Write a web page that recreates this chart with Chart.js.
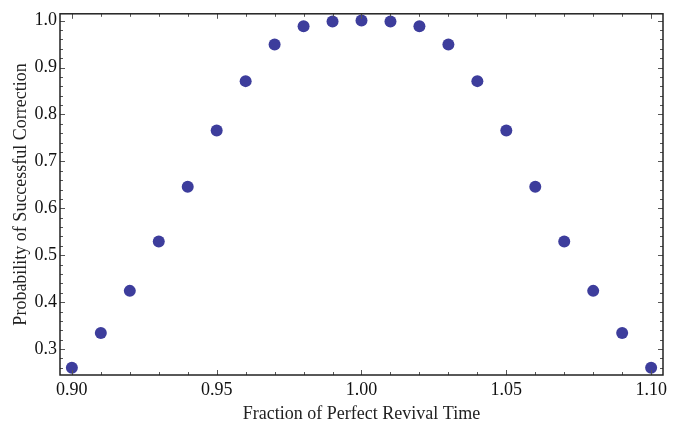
<!DOCTYPE html>
<html>
<head>
<meta charset="utf-8">
<script src="https://cdn.jsdelivr.net/npm/chart.js@4"></script>
<style>
  html, body { margin: 0; padding: 0; background: #fff; }
  #wrap { width: 692px; height: 429px; }
</style>
</head>
<body>
<div id="wrap"><canvas id="scatterChart"></canvas></div>
<script>
// fraction of perfect revival time
const fractions = [0.90, 0.91, 0.92, 0.93, 0.94, 0.95, 0.96, 0.97, 0.98, 0.99, 1.00,
                   1.01, 1.02, 1.03, 1.04, 1.05, 1.06, 1.07, 1.08, 1.09, 1.10];
// probability of successful correction
const probabilities = [0.260, 0.334, 0.424, 0.529, 0.646, 0.766, 0.871, 0.949, 0.988, 0.998, 1.000,
                       0.998, 0.988, 0.949, 0.871, 0.766, 0.646, 0.529, 0.424, 0.334, 0.260];
const xTicks = [0.90, 0.95, 1.00, 1.05, 1.10];
const yTicks = [0.3, 0.4, 0.5, 0.6, 0.7, 0.8, 0.9, 1.0];

const serif = "'Liberation Serif', 'Times New Roman', serif";

// Mathematica style frame with inward ticks on all four sides
const frameTicks = {
	id: 'frameTicks',
	afterDatasetsDraw(chart) {
		const ctx = chart.ctx;
		const a = chart.chartArea;
		const xs = chart.scales.x;
		const ys = chart.scales.y;
		ctx.save();
		ctx.strokeStyle = '#555';
		ctx.lineWidth = 1;
		ctx.beginPath();
		// x minor every 0.01, major every 0.05
		for (let i = 90; i <= 110; i++) {
			const px = Math.round(xs.getPixelForValue(i / 100)) + 0.5;
			const len = (i % 5 === 0) ? 5 : 3;
			ctx.moveTo(px, a.bottom); ctx.lineTo(px, a.bottom - len);
			ctx.moveTo(px, a.top); ctx.lineTo(px, a.top + len);
		}
		// y minor every 0.02, major every 0.1
		for (let i = 13; i <= 50; i++) {
			const v = i / 50;
			if (v < ys.min || v > ys.max) continue;
			const py = Math.round(ys.getPixelForValue(v)) + 0.5;
			const len = (i % 5 === 0) ? 5 : 3;
			ctx.moveTo(a.left, py); ctx.lineTo(a.left + len, py);
			ctx.moveTo(a.right, py); ctx.lineTo(a.right - len, py);
		}
		ctx.stroke();
		ctx.strokeStyle = '#222';
		ctx.lineWidth = 1.5;
		ctx.strokeRect(a.left, a.top, a.right - a.left, a.bottom - a.top);
		ctx.restore();
	}
};

const ctx = document.getElementById('scatterChart').getContext('2d');
const scatterChart = new Chart(ctx, {
	type: 'scatter',
	data: {
		datasets: [{
			data: fractions.map((f, i) => ({ x: f, y: probabilities[i] })),
			backgroundColor: '#3d3d9c',
			borderColor: '#3d3d9c',
			borderWidth: 0,
			pointRadius: 6,
			pointHoverRadius: 6
		}]
	},
	options: {
		responsive: true,
		maintainAspectRatio: false,
		animation: false,
		events: [],
		layout: { padding: { top: 3, right: 29, left: 0, bottom: 4 } },
		plugins: { legend: { display: false }, tooltip: { enabled: false } },
		scales: {
			x: {
				type: 'linear',
				min: 0.8959,
				max: 1.1041,
				afterBuildTicks: (scale) => { scale.ticks = xTicks.map(v => ({ value: v })); },
				afterFit: (scale) => { scale.height = 50; },
				grid: { display: false, drawTicks: false, tickLength: 0 },
				border: { display: false },
				ticks: {
					color: '#111',
					font: { family: serif, size: 18 },
					padding: 4,
					maxRotation: 0,
					autoSkip: false,
					callback: (v) => v.toFixed(2)
				},
				title: {
					display: true,
					text: 'Fraction of Perfect Revival Time',
					color: '#222',
					font: { family: serif, size: 18 },
					padding: { top: 0, bottom: 0 }
				}
			},
			y: {
				type: 'linear',
				min: 0.2447,
				max: 1.0145,
				afterBuildTicks: (scale) => { scale.ticks = yTicks.map(v => ({ value: v })); },
				afterFit: (scale) => { scale.width = 60; },
				grid: { display: false, drawTicks: false, tickLength: 0 },
				border: { display: false },
				ticks: {
					color: '#111',
					font: { family: serif, size: 18 },
					padding: 3,
					autoSkip: false,
					callback: (v) => v.toFixed(1)
				},
				title: {
					display: true,
					text: 'Probability of Successful Correction',
					color: '#222',
					font: { family: serif, size: 18 },
					padding: { top: 10, bottom: 0 }
				}
			}
		}
	},
	plugins: [frameTicks]
});
</script>
</body>
</html>
